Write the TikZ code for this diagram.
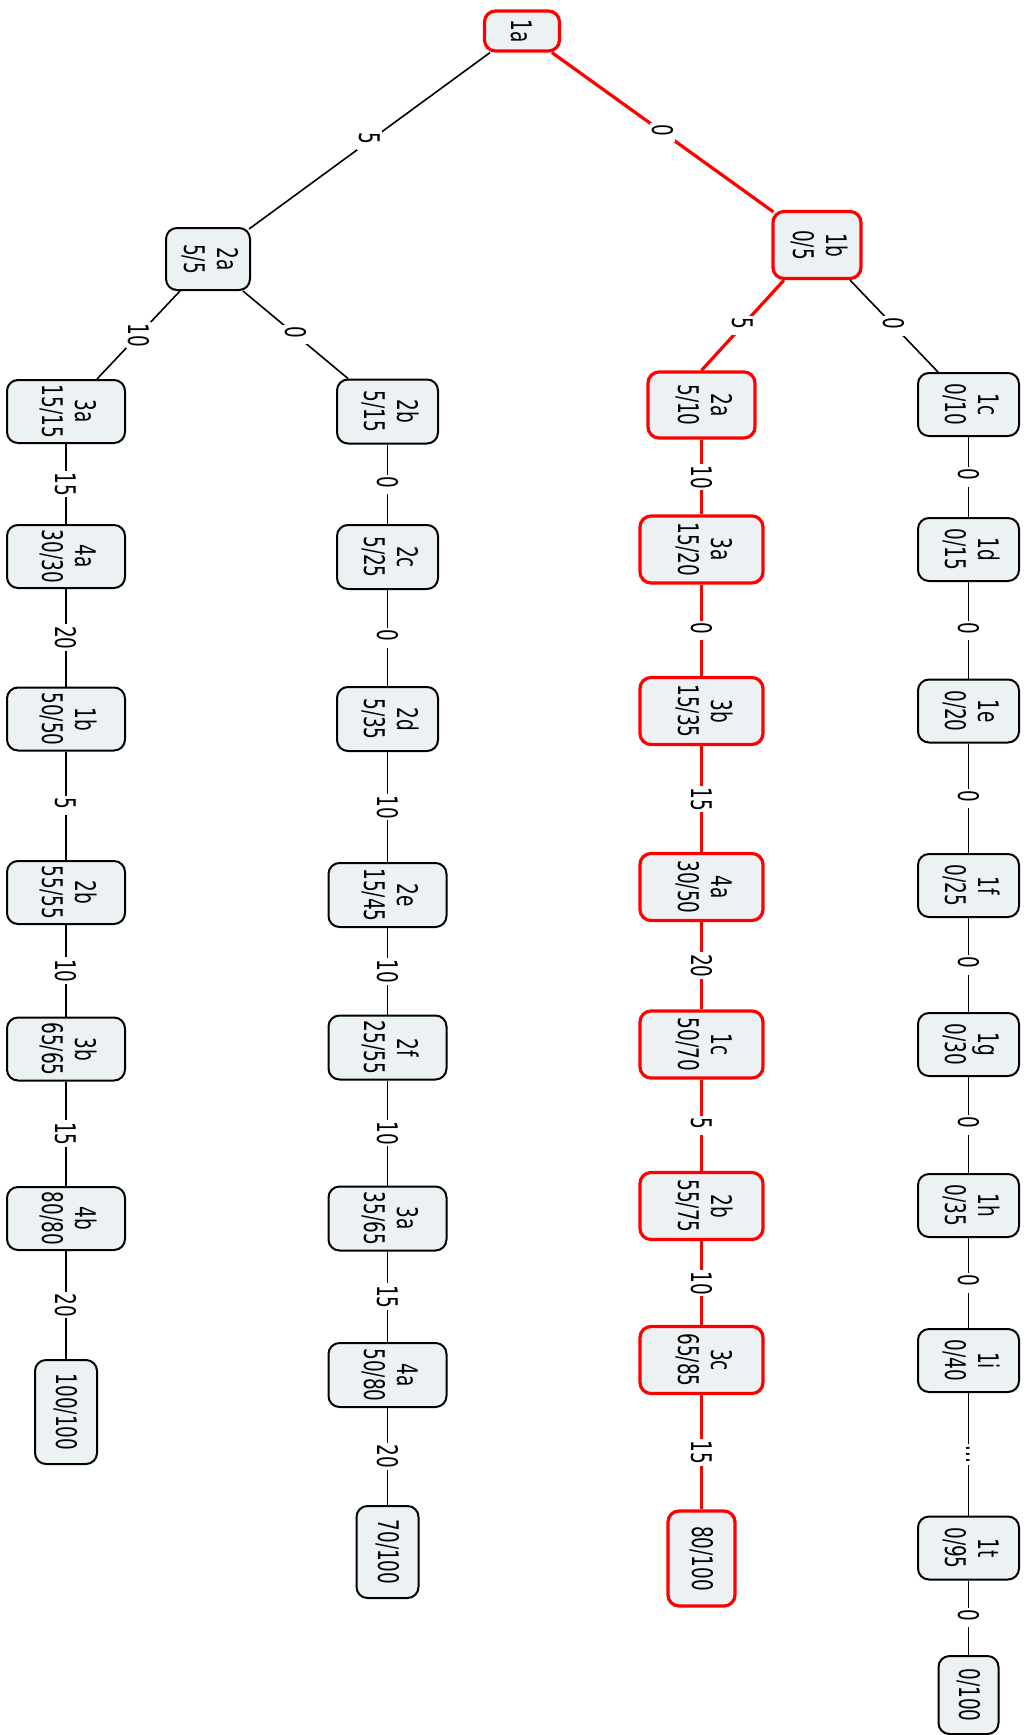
\documentclass[tikz,border=0pt]{standalone}
\usepackage{fontspec}
\setmainfont{DejaVu Sans}[FakeStretch=0.65]
\usepackage{graphicx}
\usetikzlibrary{calc}
\definecolor{boxfill}{RGB}{236,242,244}
\newcommand\rtx[1]{\rotatebox[origin=c]{-90}{#1}}
\newcommand\twol[2]{\rotatebox[origin=c]{-90}{\begin{tabular}{@{}c@{}}#1\\#2\end{tabular}}}
\begin{document}
\begin{tikzpicture}[x=0.5pt,y=-0.5pt,
  every node/.style={font=\fontsize{14.2}{16.5}\selectfont},
  bx/.style={draw=black, line width=1pt, fill=boxfill, rounded corners=5.5pt, inner sep=0pt},
  hot/.style={draw=red, line width=1.6pt},
  sz/.style 2 args={minimum width=#1*0.5pt, minimum height=#2*0.5pt},
  ed/.style={line width=0.8pt, draw=black},
  edh/.style={line width=1.6pt, draw=red},
  lbl/.style={fill=white, inner sep=0.8pt}]
\useasboundingbox (0,0) rectangle (1025,1735);

% top
\node[bx,hot,sz={75}{40}] (n1a) at (522,31) {\rtx{1a}};
\node[bx,sz={84}{62}] (n2aL) at (208,259) {\twol{2a}{5/5}};
\node[bx,hot,sz={88}{67}] (n1b) at (817,245) {\twol{1b}{0/5}};

% column A
\node[bx,sz={118}{63}] (A1) at (66,411.5) {\twol{3a}{15/15}};
\node[bx,sz={118}{63}] (A2) at (66,556.5) {\twol{4a}{30/30}};
\node[bx,sz={118}{63}] (A3) at (66,719) {\twol{1b}{50/50}};
\node[bx,sz={118}{63}] (A4) at (66,892.5) {\twol{2b}{55/55}};
\node[bx,sz={118}{63}] (A5) at (66,1049) {\twol{3b}{65/65}};
\node[bx,sz={118}{63}] (A6) at (66,1218.5) {\twol{4b}{80/80}};
\node[bx,sz={62}{104}] (A7) at (66,1412) {\rtx{100/100}};

% column B
\node[bx,sz={101}{64}] (B1) at (387.5,411.5) {\twol{2b}{5/15}};
\node[bx,sz={101}{64}] (B2) at (387.5,557) {\twol{2c}{5/25}};
\node[bx,sz={101}{64}] (B3) at (387.5,719) {\twol{2d}{5/35}};
\node[bx,sz={118}{64}] (B4) at (387.5,895) {\twol{2e}{15/45}};
\node[bx,sz={118}{64}] (B5) at (387.5,1047.5) {\twol{2f}{25/55}};
\node[bx,sz={118}{64}] (B6) at (387.5,1218.5) {\twol{3a}{35/65}};
\node[bx,sz={118}{64}] (B7) at (387.5,1375) {\twol{4a}{50/80}};
\node[bx,sz={62}{92}] (B8) at (387.5,1552) {\rtx{70/100}};

% column C (highlighted)
\node[bx,hot,sz={107}{66}] (C1) at (701.5,405) {\twol{2a}{5/10}};
\node[bx,hot,sz={123}{67}] (C2) at (701.5,549.5) {\twol{3a}{15/20}};
\node[bx,hot,sz={123}{67}] (C3) at (701.5,711) {\twol{3b}{15/35}};
\node[bx,hot,sz={123}{67}] (C4) at (701.5,887) {\twol{4a}{30/50}};
\node[bx,hot,sz={123}{67}] (C5) at (701.5,1044.5) {\twol{1c}{50/70}};
\node[bx,hot,sz={123}{67}] (C6) at (701.5,1206) {\twol{2b}{55/75}};
\node[bx,hot,sz={123}{67}] (C7) at (701.5,1360) {\twol{3c}{65/85}};
\node[bx,hot,sz={67}{95}] (C8) at (701.5,1558.5) {\rtx{80/100}};

% column D
\node[bx,sz={101}{63}] (D1) at (968.5,404.5) {\twol{1c}{0/10}};
\node[bx,sz={101}{63}] (D2) at (968.5,549.5) {\twol{1d}{0/15}};
\node[bx,sz={101}{63}] (D3) at (968.5,711) {\twol{1e}{0/20}};
\node[bx,sz={101}{63}] (D4) at (968.5,885.5) {\twol{1f}{0/25}};
\node[bx,sz={101}{63}] (D5) at (968.5,1044.5) {\twol{1g}{0/30}};
\node[bx,sz={101}{63}] (D6) at (968.5,1205.5) {\twol{1h}{0/35}};
\node[bx,sz={101}{63}] (D7) at (968.5,1360.5) {\twol{1i}{0/40}};
\node[bx,sz={101}{63}] (D8) at (968.5,1548) {\twol{1t}{0/95}};
\node[bx,sz={60}{78}] (D9) at (968.5,1695) {\rtx{0/100}};

% top edges
\draw[ed] ($(n1a.south)+(-32,0)$) -- node[lbl]{\rtx{5}} ($(n2aL.north east)+(-2,2)$);
\draw[edh] ($(n1a.south)+(30,0)$) -- node[lbl]{\rtx{0}} ($(n1b.north west)+(2,2)$);
\draw[ed] ($(n2aL.south)+(-28,0)$) -- node[lbl]{\rtx{10}} ($(A1.north)+(31,0)$);
\draw[ed] ($(n2aL.south)+(35,0)$) -- node[lbl]{\rtx{0}} ($(B1.north)+(-39.5,0)$);
\draw[edh] ($(n1b.south)+(-33,0)$) -- node[lbl]{\rtx{5}} (C1.north);
\draw[ed] ($(n1b.south)+(33,0)$) -- node[lbl]{\rtx{0}} ($(D1.north)+(-30.5,0)$);

% column A edges
\draw[ed] (A1) -- node[lbl]{\rtx{15}} (A2);
\draw[ed] (A2) -- node[lbl]{\rtx{20}} (A3);
\draw[ed] (A3) -- node[lbl]{\rtx{5}} (A4);
\draw[ed] (A4) -- node[lbl]{\rtx{10}} (A5);
\draw[ed] (A5) -- node[lbl]{\rtx{15}} (A6);
\draw[ed] (A6) -- node[lbl]{\rtx{20}} (A7);

% column B edges
\draw[ed] (B1) -- node[lbl]{\rtx{0}} (B2);
\draw[ed] (B2) -- node[lbl]{\rtx{0}} (B3);
\draw[ed] (B3) -- node[lbl]{\rtx{10}} (B4);
\draw[ed] (B4) -- node[lbl]{\rtx{10}} (B5);
\draw[ed] (B5) -- node[lbl]{\rtx{10}} (B6);
\draw[ed] (B6) -- node[lbl]{\rtx{15}} (B7);
\draw[ed] (B7) -- node[lbl]{\rtx{20}} (B8);

% column C edges
\draw[edh] (C1) -- node[lbl]{\rtx{10}} (C2);
\draw[edh] (C2) -- node[lbl]{\rtx{0}} (C3);
\draw[edh] (C3) -- node[lbl]{\rtx{15}} (C4);
\draw[edh] (C4) -- node[lbl]{\rtx{20}} (C5);
\draw[edh] (C5) -- node[lbl]{\rtx{5}} (C6);
\draw[edh] (C6) -- node[lbl]{\rtx{10}} (C7);
\draw[edh] (C7) -- node[lbl]{\rtx{15}} (C8);

% column D edges
\draw[ed] (D1) -- node[lbl]{\rtx{0}} (D2);
\draw[ed] (D2) -- node[lbl]{\rtx{0}} (D3);
\draw[ed] (D3) -- node[lbl]{\rtx{0}} (D4);
\draw[ed] (D4) -- node[lbl]{\rtx{0}} (D5);
\draw[ed] (D5) -- node[lbl]{\rtx{0}} (D6);
\draw[ed] (D6) -- node[lbl]{\rtx{0}} (D7);
\draw[ed] (D7) -- node[lbl]{\rtx{...}} (D8);
\draw[ed] (D8) -- node[lbl]{\rtx{0}} (D9);
\end{tikzpicture}
\end{document}
